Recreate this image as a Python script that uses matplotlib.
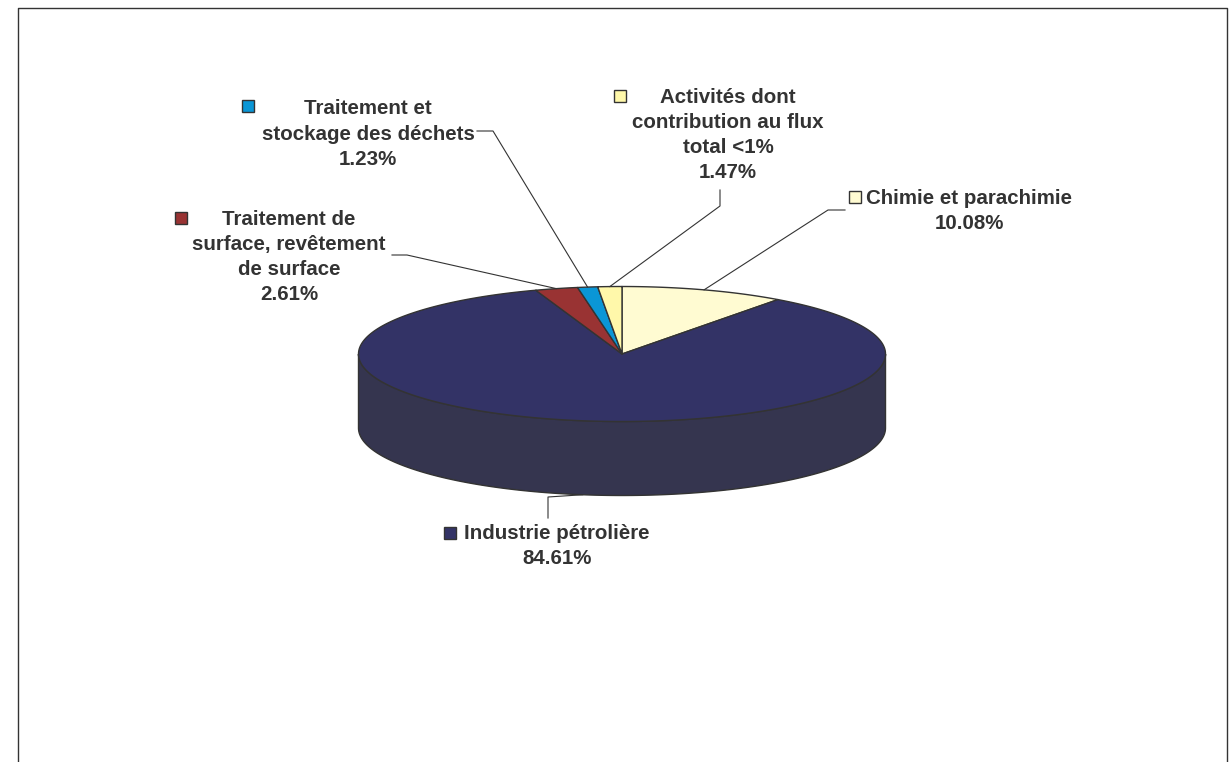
"""3D-style pie chart of contributions by sector — matplotlib only."""

import matplotlib

matplotlib.use("Agg")

import matplotlib.pyplot as plt
import numpy as np
from matplotlib.patches import Polygon, Rectangle

plt.rcParams["font.family"] = ["Liberation Sans", "DejaVu Sans"]

# slices, clockwise from 12 o'clock
labels = [
    "Chimie et parachimie",
    "Industrie pétrolière",
    "Traitement de\nsurface, revêtement\nde surface",
    "Traitement et\nstockage des déchets",
    "Activités dont\ncontribution au flux\ntotal <1%",
]
values = [10.08, 84.61, 2.61, 1.23, 1.47]
colors = ["#FFFBD2", "#333366", "#993333", "#0A96D6", "#FFF8AA"]
side_colors = ["#D9D5A8", "#35354F", "#6E2626", "#08709F", "#D8D18A"]

# label layout (pixel coords): text centre, key square, leader elbow points
label_xy = [(969, 211), (557, 546), (289, 257), (368, 134), (728, 135)]
key_xy = [(855, 197), (450, 533), (181, 218), (248, 106), (620, 96)]
leader_pts = [
    [(845, 210), (828, 210)],
    [(548, 518), (548, 497)],
    [(392, 255), (407, 255)],
    [(477, 131), (493, 131)],
    [(720, 190), (720, 206)],
]

W, H = 1229, 762
cx, cy, a, b, depth = 622, 354, 263.5, 67.5, 74
EDGE = "#333333"


def rim(theta_deg, dy=0.0):
    t = np.radians(theta_deg)
    return cx + a * np.sin(t), cy - b * np.cos(t) + dy


fig = plt.figure(figsize=(W / 100, H / 100), dpi=100)
ax = fig.add_axes([0, 0, 1, 1])
ax.set_xlim(0, W)
ax.set_ylim(H, 0)
ax.axis("off")

# outer frame (open at the bottom)
ax.plot([18, 18, 1227, 1227], [H, 8, 8, H], color="#333333", lw=1.0)

total = sum(values)
bounds = np.concatenate([[0], np.cumsum(values)]) / total * 360.0

# side walls: only the front half (90..270 deg) is visible
for i in range(len(values)):
    t0, t1 = max(bounds[i], 90), min(bounds[i + 1], 270)
    if t1 <= t0:
        continue
    th = np.linspace(t0, t1, 200)
    top = np.array([rim(t) for t in th])
    bot = np.array([rim(t, depth) for t in th[::-1]])
    ax.add_patch(Polygon(np.vstack([top, bot]), closed=True,
                         facecolor=side_colors[i], edgecolor=EDGE, lw=1.0))

# top face
for i in range(len(values)):
    th = np.linspace(bounds[i], bounds[i + 1], 400)
    pts = np.vstack([[cx, cy], [rim(t) for t in th]])
    ax.add_patch(Polygon(pts, closed=True, facecolor=colors[i],
                         edgecolor=EDGE, lw=1.0, joinstyle="round"))

# labels, keys and leader lines
for i, lab in enumerate(labels):
    tx, ty = label_xy[i]
    ax.text(tx, ty, f"{lab}\n{values[i]:.2f}%", ha="center", va="center",
            multialignment="center", fontsize=14.8, fontweight="bold",
            color="#333333", linespacing=1.42)
    kx, ky = key_xy[i]
    ax.add_patch(Rectangle((kx - 6, ky - 6), 12, 12, facecolor=colors[i],
                           edgecolor=EDGE, lw=1.0))

    mid = (bounds[i] + bounds[i + 1]) / 2
    end = rim(mid, depth if 90 < mid < 270 else 0)
    xs, ys = zip(*(leader_pts[i] + [end]))
    ax.plot(xs, ys, color="#333333", lw=0.8)

fig.savefig("out.png", dpi=100)
plt.close(fig)
